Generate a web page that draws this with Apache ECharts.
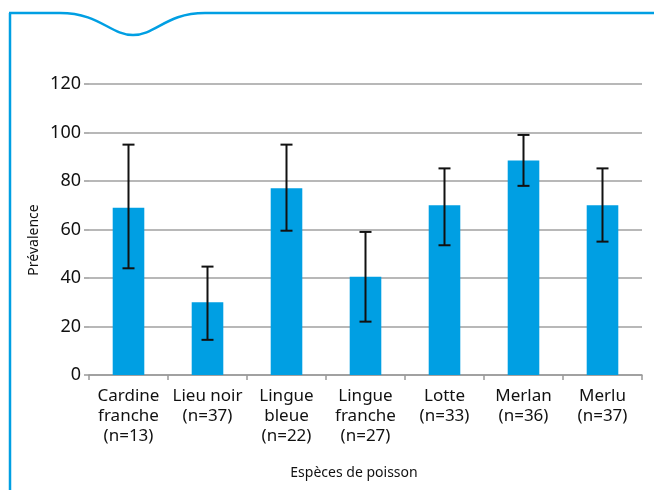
<!DOCTYPE html>
<html><head><meta charset="utf-8">
<script src="https://cdn.jsdelivr.net/npm/echarts@6/dist/echarts.min.js"></script>
<style>html,body{margin:0;padding:0;background:#fff}#c{width:654px;height:490px}</style>
</head><body><div id="c"></div>
<script>
const categories = ['Cardine\nfranche\n(n=13)', 'Lieu noir\n(n=37)', 'Lingue\nbleue\n(n=22)', 'Lingue\nfranche\n(n=27)', 'Lotte\n(n=33)', 'Merlan\n(n=36)', 'Merlu\n(n=37)'];
const prevalence = [69, 30, 77, 40.5, 70, 88.5, 70];
const errLow = [44, 14.5, 59.5, 22, 53.5, 78, 55];
const errHigh = [95, 44.7, 95, 59, 85.2, 99, 85.2];
const yTicks = [0, 20, 40, 60, 80, 100, 120];

const BLUE = '#009fe3';
const FONT = '"Noto Sans", "Open Sans", sans-serif';
const chart = echarts.init(document.getElementById('c'), null, {renderer: 'canvas'});
chart.setOption({
  animation: false,
  backgroundColor: '#fff',
  grid: {left: 89, right: 12, top: 84, bottom: 115},
  xAxis: {
    type: 'category', data: categories,
    axisLine: {lineStyle: {color: '#999', width: 1.5}},
    axisTick: {show: true, length: 5, lineStyle: {color: '#999', width: 1.5}},
    axisLabel: {color: '#111', fontSize: 17, fontFamily: FONT, lineHeight: 20, margin: 11, interval: 0}
  },
  yAxis: {
    type: 'value', min: yTicks[0], max: yTicks[yTicks.length - 1], interval: 20,
    axisLine: {show: false},
    axisTick: {show: true, length: 5, lineStyle: {color: '#999', width: 1.5}},
    splitLine: {lineStyle: {color: '#a0a0a0', width: 1.5}},
    axisLabel: {color: '#111', fontSize: 18, fontFamily: FONT, margin: 8}
  },
  series: [{
    type: 'bar', data: prevalence, barWidth: '40%',
    itemStyle: {color: BLUE}, z: 2
  }, {
    type: 'custom', z: 5,
    data: categories.map((c, i) => [i, errLow[i], errHigh[i]]),
    renderItem: function (params, api) {
      const lo = api.coord([api.value(0), api.value(1)]);
      const hi = api.coord([api.value(0), api.value(2)]);
      const hw = 6;
      const st = {stroke: '#111', lineWidth: 2};
      return {type: 'group', children: [
        {type: 'line', shape: {x1: lo[0], y1: lo[1], x2: hi[0], y2: hi[1]}, style: st},
        {type: 'line', shape: {x1: lo[0] - hw, y1: lo[1], x2: lo[0] + hw, y2: lo[1]}, style: st},
        {type: 'line', shape: {x1: hi[0] - hw, y1: hi[1], x2: hi[0] + hw, y2: hi[1]}, style: st}
      ]};
    }
  }],
  graphic: [
    {type: 'line', shape: {x1: 10, y1: 490, x2: 10, y2: 13}, style: {stroke: BLUE, lineWidth: 2.5}},
    {type: 'line', shape: {x1: 9, y1: 13, x2: 60, y2: 13}, style: {stroke: BLUE, lineWidth: 2.5}},
    {type: 'bezierCurve', shape: {x1: 60, y1: 13, cpx1: 100, cpy1: 13, cpx2: 110, cpy2: 35, x2: 133, y2: 35}, style: {stroke: BLUE, lineWidth: 2.5, fill: null}},
    {type: 'bezierCurve', shape: {x1: 133, y1: 35, cpx1: 156, cpy1: 35, cpx2: 166, cpy2: 13, x2: 205, y2: 13}, style: {stroke: BLUE, lineWidth: 2.5, fill: null}},
    {type: 'line', shape: {x1: 205, y1: 13, x2: 654, y2: 13}, style: {stroke: BLUE, lineWidth: 2.5}},
    {type: 'text', x: 34, y: 240, rotation: Math.PI / 2,
      style: {text: 'Prévalence', fill: '#111', font: '14px ' + FONT, textAlign: 'center', textVerticalAlign: 'middle'}},
    {type: 'text', x: 354, y: 473,
      style: {text: 'Espèces de poisson', fill: '#111', font: '14px ' + FONT, textAlign: 'center', textVerticalAlign: 'middle'}}
  ]
});
</script></body></html>
